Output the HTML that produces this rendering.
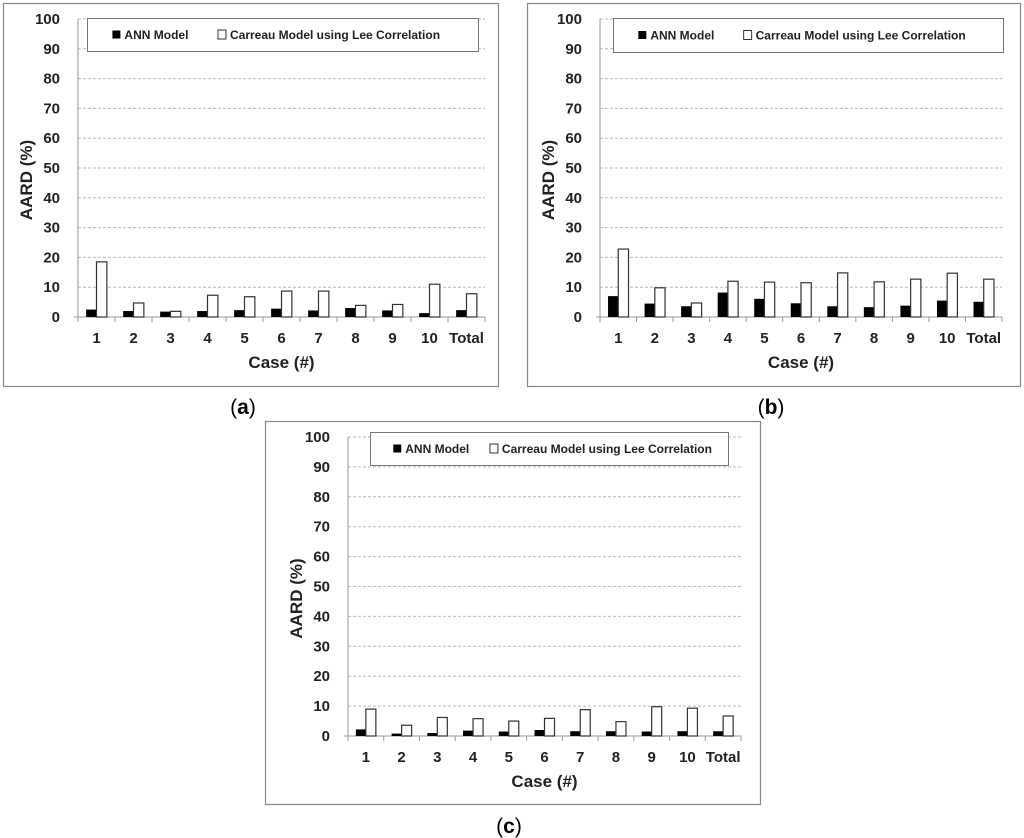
<!DOCTYPE html>
<html><head><meta charset="utf-8"><style>
html,body{margin:0;padding:0;background:#fff;width:1024px;height:838px;overflow:hidden}
svg text{font-family:"Liberation Sans",Arial,sans-serif}
</style></head><body>
<svg id="fig" width="1024" height="838" xmlns="http://www.w3.org/2000/svg"></svg>
<script>
const categories = ["1","2","3","4","5","6","7","8","9","10","Total"];
const yTicks = [0,10,20,30,40,50,60,70,80,90,100];
const annA = [2.5,2,1.8,2,2.3,2.8,2.2,3,2.2,1.3,2.3];
const carA = [18.5,4.7,1.9,7.3,6.8,8.7,8.7,3.9,4.2,11,7.8];
const annB = [7,4.5,3.6,8.2,6.1,4.6,3.6,3.3,3.8,5.5,5.1];
const carB = [22.8,9.8,4.7,12,11.7,11.5,14.8,11.8,12.7,14.7,12.7];
const annC = [2.2,0.8,1,1.8,1.5,2,1.6,1.6,1.5,1.6,1.6];
const carC = [9,3.6,6.2,5.8,5,5.9,8.8,4.8,9.8,9.3,6.7];

const NS="http://www.w3.org/2000/svg";
const svg=document.getElementById('fig');
function mk(tag,attrs,parent,txt){const e=document.createElementNS(NS,tag);for(const k in attrs)e.setAttribute(k,attrs[k]);if(txt!==undefined)e.textContent=txt;(parent||svg).appendChild(e);return e;}

function panel(id,box,plot,leg,cap,ann,car){
  const g=mk('g',{});
  
  
  const frame=mk('rect',{x:box[0]+0.5,y:box[1]+0.5,width:box[2]-box[0],height:box[3]-box[1],fill:'#fff',stroke:'#888','stroke-width':1.2},g);
  
  
  const L=plot[0],R=plot[1],T=plot[2],B=plot[3];
  const yS=v=>B-(v/100)*(B-T);
  const n=categories.length, gw=(R-L)/n;
  const xS=i=>L+i*gw;
  yTicks.forEach(t=>{
    if(t>0){const gl=mk('line',{x1:L,x2:R,y1:yS(t),y2:yS(t),stroke:'#bbb','stroke-dasharray':'3,2','stroke-width':1},g);
      
      }
    const tl=mk('text',{x:L-18,y:yS(t)+5,'text-anchor':'end','font-size':15,'font-weight':'bold',fill:'#222'},g,String(t));
    
    
  });
  const ya=mk('line',{x1:L,x2:L,y1:T,y2:B,stroke:'#999','stroke-width':1},g);
  
  
  const xa=mk('line',{x1:L-4,x2:R,y1:B,y2:B,stroke:'#999','stroke-width':1},g);
  
  
  for(let i=0;i<=n;i++){const tk=mk('line',{x1:xS(i),x2:xS(i),y1:B,y2:B+5,stroke:'#999'},g);
    
    }
  const bw=gw*0.28;
  categories.forEach((c,i)=>{
    const cx=xS(i)+gw/2;
    const b1=mk('rect',{x:cx-bw,y:yS(ann[i]),width:bw,height:B-yS(ann[i]),fill:'#000'},g);
    
    
    const b2=mk('rect',{x:cx,y:yS(car[i]),width:bw,height:B-yS(car[i]),fill:'#fff',stroke:'#333','stroke-width':1.2},g);
    
    
    const xl=mk('text',{x:cx,y:B+26,'text-anchor':'middle','font-size':15,'font-weight':'bold',fill:'#222'},g,c);
    
    
  });
  const xt=mk('text',{x:(L+R)/2,y:B+51,'text-anchor':'middle','font-size':17,'font-weight':'bold',fill:'#222'},g,'Case (#)');
  
  
  const cy=(T+B)/2+12;
  const yt=mk('text',{x:0,y:0,'text-anchor':'middle','font-size':17,'font-weight':'bold',fill:'#222',transform:`translate(${L-46},${cy}) rotate(-90)`},g,'AARD (%)');
  
  
  const lg=mk('g',{},g);
  
  
  mk('rect',{x:leg[0]+0.5,y:leg[2]+0.5,width:leg[1]-leg[0],height:leg[3]-leg[2],fill:'#fff',stroke:'#777'},lg);
  const my=(leg[2]+leg[3])/2;
  const w=leg[1]-leg[0];
  const e1=mk('g',{},lg);
  
  
  mk('rect',{x:leg[0]+w*0.065,y:my-4,width:8,height:8,fill:'#000'},e1);
  mk('text',{x:leg[0]+w*0.065+12,y:my+4.5,'font-size':12,'font-weight':'bold',fill:'#222'},e1,'ANN Model');
  const e2=mk('g',{},lg);
  
  
  mk('rect',{x:leg[0]+w*0.335,y:my-4.5,width:8,height:9,fill:'#fff',stroke:'#333'},e2);
  mk('text',{x:leg[0]+w*0.335+12,y:my+4.5,'font-size':12,'font-weight':'bold',fill:'#222'},e2,'Carreau Model using Lee Correlation');
  const ct=mk('text',{x:cap[0],y:cap[1],'text-anchor':'middle','font-size':21,fill:'#000','font-family':'"Liberation Serif",serif'},svg);
  ct.textContent='(';
  const bt=mk('tspan',{'font-weight':'bold'},ct,id);
  ct.appendChild(document.createTextNode(')'));
  
  
}
panel('a',[3,3,498,386],[78,485,19,317],[87,478,18,51],[243,414],annA,carA);
panel('b',[527,3,1020,386],[600,1002,19,317],[613,1003,18,52],[771,414],annB,carB);
panel('c',[265,421,760,804],[348,741,437,736],[370,728,432,465],[509,833],annC,carC);
</script>
</body></html>
